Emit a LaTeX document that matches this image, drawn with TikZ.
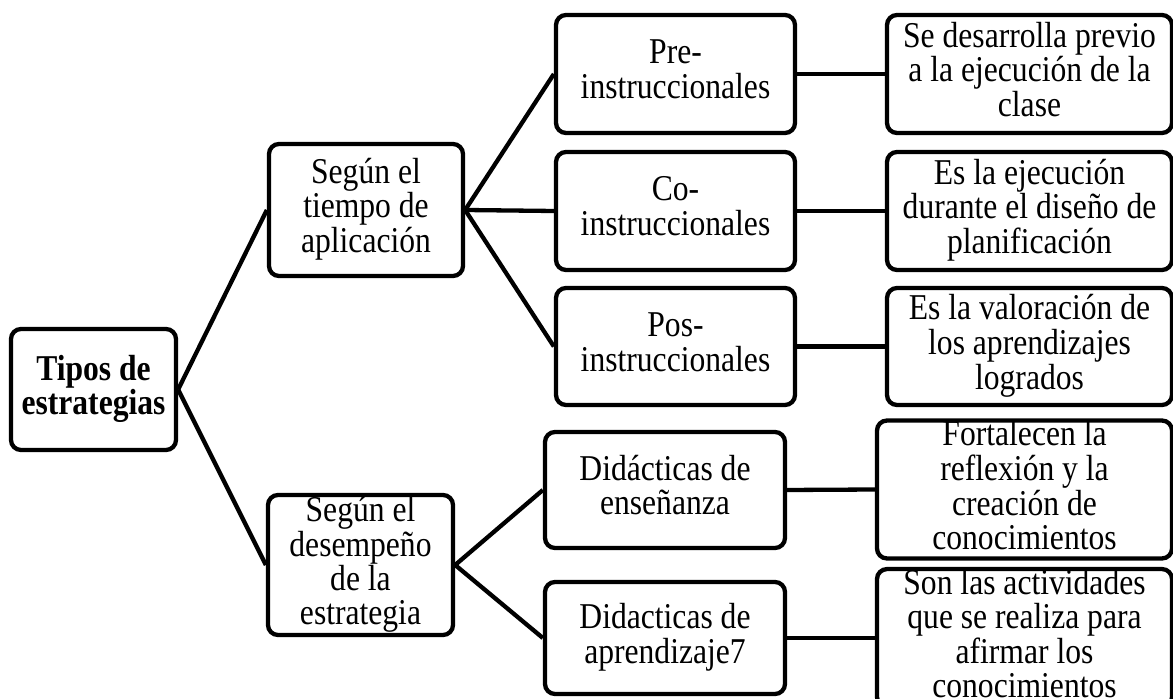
\documentclass[tikz,border=0pt]{standalone}
\usepackage{fontspec}
\usepackage{graphicx}
\setmainfont{Liberation Serif}
\newcommand\tx[1]{\scalebox{1}[1.15]{\begin{tabular}{@{}c@{}}#1\end{tabular}}}
\begin{document}
\begin{tikzpicture}[x=0.5pt,y=-0.5pt,
  box/.style={draw=black, line width=2.15pt, rounded corners=5pt, inner sep=0pt,
    align=center, font=\fontsize{15.8}{13.7}\selectfont, fill=white},
  conn/.style={draw=black, line width=2.15pt}]
\useasboundingbox (0,0) rectangle (1173,699);
\fill[white] (0,0) rectangle (1173,699);
% nodes
\node[box, minimum width=82.5pt, minimum height=60.5pt, font=\fontsize{15.8}{13.7}\selectfont\bfseries] (root) at (93.5,389.5) {\tx{Tipos de\\estrategias}};
\node[box, minimum width=97pt, minimum height=66pt] (tiempo) at (366,210) {\tx{Según el\\tiempo de\\aplicación}};
\node[box, minimum width=92.5pt, minimum height=70pt] (desem) at (360.5,565) {\tx{Según el\\desempeño\\de la\\estrategia}};
\node[box, minimum width=119.5pt, minimum height=59pt] (pre) at (675.5,74) {\tx{Pre-\\instruccionales}};
\node[box, minimum width=119.5pt, minimum height=59pt] (co) at (675.5,211) {\tx{Co-\\instruccionales}};
\node[box, minimum width=119.5pt, minimum height=58.5pt] (pos) at (675.5,346.5) {\tx{Pos-\\instruccionales}};
\node[box, minimum width=120pt, minimum height=58pt] (den) at (665,490) {\tx{Didácticas de\\enseñanza}};
\node[box, minimum width=120pt, minimum height=56pt] (dap) at (665,638) {\tx{Didacticas de\\aprendizaje7}};
\node[box, minimum width=142.5pt, minimum height=59pt] (r1) at (1029.5,74) {\tx{Se desarrolla previo\\a la ejecución de la\\clase}};
\node[box, minimum width=142.5pt, minimum height=59pt] (r2) at (1029.5,211) {\tx{Es la ejecución\\durante el diseño de\\planificación}};
\node[box, minimum width=142.5pt, minimum height=58.5pt] (r3) at (1029.5,346.5) {\tx{Es la valoración de\\los aprendizajes\\logrados}};
\node[box, minimum width=147.5pt, minimum height=65.5pt] (r4) at (1024.5,489.5) {\tx{Fortalecen la\\reflexión y la\\creación de\\conocimientos}};
\node[box, minimum width=147.5pt, minimum height=65pt] (r5) at (1024.5,638) {\tx{Son las actividades\\que se realiza para\\afirmar los\\conocimientos}};
% connectors
\draw[conn] (root.east) -- (tiempo.west);
\draw[conn] (root.east) -- (desem.west);
\draw[conn] (tiempo.east) -- (pre.west);
\draw[conn] (tiempo.east) -- (co.west);
\draw[conn] (tiempo.east) -- (pos.west);
\draw[conn] (desem.east) -- (den.west);
\draw[conn] (desem.east) -- (dap.west);
\draw[conn] (pre.east) -- (r1.west);
\draw[conn] (co.east) -- (r2.west);
\draw[conn] (pos.east) -- (r3.west);
\draw[conn] (den.east) -- (r4.west);
\draw[conn] (dap.east) -- (r5.west);
\end{tikzpicture}
\end{document}
